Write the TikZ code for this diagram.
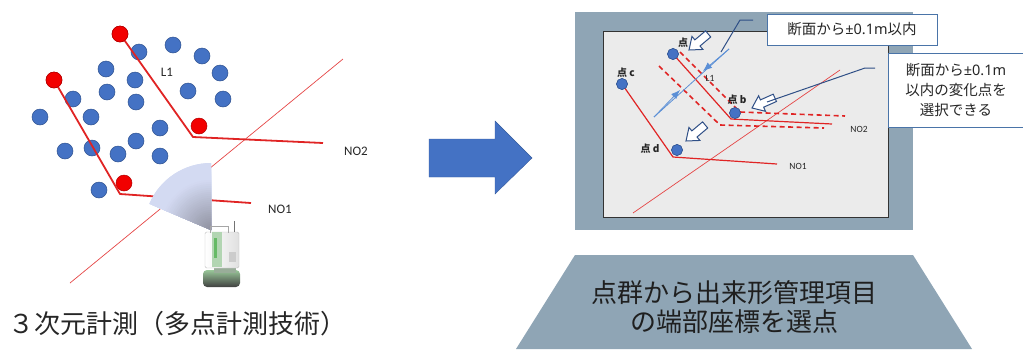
\documentclass[tikz,border=0pt]{standalone}
\usepackage{fontspec}
\newfontfamily\jpfont{Noto Sans CJK JP}
\newfontfamily\latinfont{Carlito}
\newfontfamily\numfont{Noto Sans}
\usetikzlibrary{arrows.meta}

\definecolor{dotblue}{HTML}{4472C4}
\definecolor{dotedge}{HTML}{2F528F}
\definecolor{dotred}{HTML}{F20000}
\definecolor{rededge}{HTML}{B00000}
\definecolor{linered}{HTML}{E02424}
\definecolor{arrowblue}{HTML}{4472C4}
\definecolor{panelgray}{HTML}{8FA5B5}
\definecolor{panelin}{HTML}{EBEBEB}
\definecolor{boxedge}{HTML}{4A74A8}
\definecolor{leader}{HTML}{2F4F86}
\definecolor{gapblue}{HTML}{5B8FD6}
\definecolor{secLight}{HTML}{D3DAF2}
\definecolor{secDark}{HTML}{8A8C9A}

\begin{document}
\begin{tikzpicture}[x=1pt,y=-1pt,
  bluedot/.style={circle,fill=dotblue,draw=dotedge,line width=0.5pt,minimum size=16pt,inner sep=0pt},
  reddot/.style={bluedot,fill=dotred,draw=rededge},
  smalldot/.style={bluedot,minimum size=11pt},
  redline/.style={draw=linered,line width=1.8pt},
  thinred/.style={draw=linered!85,line width=0.7pt},
  panelred/.style={draw=linered,line width=1.2pt},
  dashred/.style={draw=linered,line width=1.6pt,dash pattern=on 5pt off 3.5pt},
  lbl/.style={font=\latinfont\fontsize{13}{13}\selectfont,text=black!85,inner sep=0pt},
  smalllbl/.style={font=\latinfont\fontsize{9.5}{9.5}\selectfont,text=black!85,inner sep=0pt},
  ptlbl/.style={font=\jpfont\bfseries\fontsize{10}{10}\selectfont,text=black!85,inner sep=0pt},
  callout/.style={draw=boxedge,line width=1pt,fill=white,inner sep=0pt,
    font=\jpfont\fontsize{14.5}{20}\selectfont,text=black!85,align=center},
  hollowline/.style={draw=leader,line width=1pt,fill=white,line join=miter},
  hollowarrow/.pic={\path[hollowline] (0,0) -- (-11,8.5) -- (-11,4) -- (-25,4)
    -- (-25,-4) -- (-11,-4) -- (-11,-8.5) -- cycle;}
]
\useasboundingbox (0,0) rectangle (1023,349);

% ---------------- point cloud with survey lines ----------------
\draw[thinred] (70,283) -- (343,59);
\coordinate (k2) at (193,137);
\coordinate (e2) at (323,143);
\coordinate (k1) at (120,194);
\coordinate (e1) at (251,203);

\foreach \x/\y [count=\i] in {139/52,173/45,202/56,220/73,106/69,135/80,188/91,
  223/99,73/99,107/92,136/102,40/117,91/117,160/128,136/141,65/151,92/148,
  118/154,160/156,99/190}
  \node[bluedot] (b\i) at (\x,\y) {};

\node[reddot] (r1) at (120,34) {};
\node[reddot] (r2) at (54,80) {};
\node[reddot] (r3) at (199,126) {};
\node[reddot] (r4) at (124,183) {};

\draw[redline,line join=round] (r1.center) -- (k2) -- (e2);
\draw[redline,line join=round] (r2.center) -- (k1) -- (e1);
\node[reddot] at (r1) {};
\node[reddot] at (r2) {};

\node[lbl] (l1) at (167,72) {L1};
\node[lbl] (no2) at (356,151) {NO2};
\node[lbl] (no1) at (280,209) {NO1};

% scan sector of the laser scanner: grey at the scanner, fading to light blue
\begin{scope}
  \clip (211,230) -- (211,163) arc[start angle=-90,end angle=-157,radius=67] -- cycle;
  \foreach \r in {70,68,...,2} {
    \pgfmathtruncatemacro\p{min(100,5+125*\r/67)}
    \fill[secLight!\p!secDark] (211,230) circle[radius=\r];
  }
\end{scope}

% laser scanner
\shade[top color=black!55!green!40,bottom color=black!75,rounded corners=4pt]
  (203,270) rectangle (240,287);
\fill[black!80!green!40] (214,266) rectangle (236,273);
\shade[left color=white,right color=black!12,draw=black!25,line width=0.4pt,rounded corners=1.5pt]
  (205,232) rectangle (239,268);
\fill[green!45!black!30!white] (212,232) rectangle (222,267);
\fill[green!55!black!60] (214,238) rectangle (217,258);
\draw[black!35,line width=1pt] (210,233) -- (210,226) -- (228,226) -- (228,233);
\draw[black!55,line width=0.8pt] (234,232) -- (234,221);
\fill[black!20] (229,252) rectangle (236,262);

\node[font=\jpfont\fontsize{26}{26}\selectfont,text=black!85,anchor=west,inner sep=0pt]
  (cap) at (8,324) {３次元計測（多点計測技術）};

% ---------------- big arrow ----------------
\fill[arrowblue,draw=arrowblue!80!black,line width=0.4pt]
  (429,139) -- (495,139) -- (495,121) -- (532,158) -- (495,194) -- (495,177) -- (429,177) -- cycle;

% ---------------- screen of the selection software ----------------
\fill[panelgray] (575,12) rectangle (913,230);
\draw[fill=panelin,draw=black!80,line width=1pt] (603,31) rectangle (888,217);

\draw[thinred] (633,213) -- (840,70);

\node[smalldot] (pa) at (673,54) {};
\node[smalldot] (pc) at (622,84) {};
\node[smalldot] (pb) at (735,113) {};
\node[smalldot] (pd) at (677,150) {};

\coordinate (ka) at (731,119);
\coordinate (ea) at (832,124);
\coordinate (kc) at (673,157);
\coordinate (ec) at (777,164);
\draw[panelred] (pa.center) -- (ka) -- (ea);
\draw[panelred] (pc.center) -- (kc) -- (ec);
\draw[dashred] (680,52) -- (740,112) -- (845,116);
\draw[dashred] (659,66) -- (720,125) -- (824,128);

\node[smalldot] at (pa) {};
\node[smalldot] at (pc) {};
\node[smalldot] at (pb) {};
\node[smalldot] at (pd) {};

\node[ptlbl] (la) at (683,43) {点};
\node[ptlbl] (lc) at (626,73) {点 c};
\node[ptlbl] (lb) at (737,100) {点 b};
\node[ptlbl] (ld) at (650,149) {点 d};
\node[smalllbl] (pl1) at (710,78) {L1};
\node[smalllbl] (pno2) at (859,129) {NO2};
\node[smalllbl] (pno1) at (798,166) {NO1};

\pic[rotate=220] at (689,50) {hollowarrow};
\pic[rotate=204] at (752,108) {hollowarrow};
\pic[rotate=220] at (686,141) {hollowarrow};

% width of the tolerance band
\coordinate (ga) at (654,117);
\coordinate (gb) at (729,49);
\coordinate (ta) at (680,90);
\coordinate (tb) at (703,71);
\draw[gapblue,line width=0.8pt] (ga) -- (gb);
\draw[gapblue,line width=0.8pt,-{Latex[length=9pt,width=7pt]}] (ga) -- (ta);
\draw[gapblue,line width=0.8pt,-{Latex[length=9pt,width=7pt]}] (gb) -- (tb);

% callouts
\node[callout,minimum width=170pt,minimum height=31pt] (c1) at (852,29.5)
  {断面から{\numfont ±0.1m}以内};
\node[callout,minimum width=135pt,minimum height=74pt,anchor=north west] (c2) at (888,53)
  {断面から{\numfont ±0.1m}\\以内の変化点を\\選択できる};
\coordinate (q1) at (753,20);
\coordinate (q2) at (875,68);
\draw[leader,line width=1pt] (q1) -- (740,20) -- (721,52);
\draw[leader,line width=1pt] (q2) -- (865,68) -- (767,102);

% ---------------- caption plate ----------------
\fill[panelgray] (575,255) -- (913,255) -- (972,349) -- (516,349) -- cycle;
\node[font=\jpfont\fontsize{26}{29}\selectfont,text=black!88,align=center,inner sep=0pt]
  (plate) at (734,307) {点群から出来形管理項目\\の端部座標を選点};
\end{tikzpicture}
\end{document}
